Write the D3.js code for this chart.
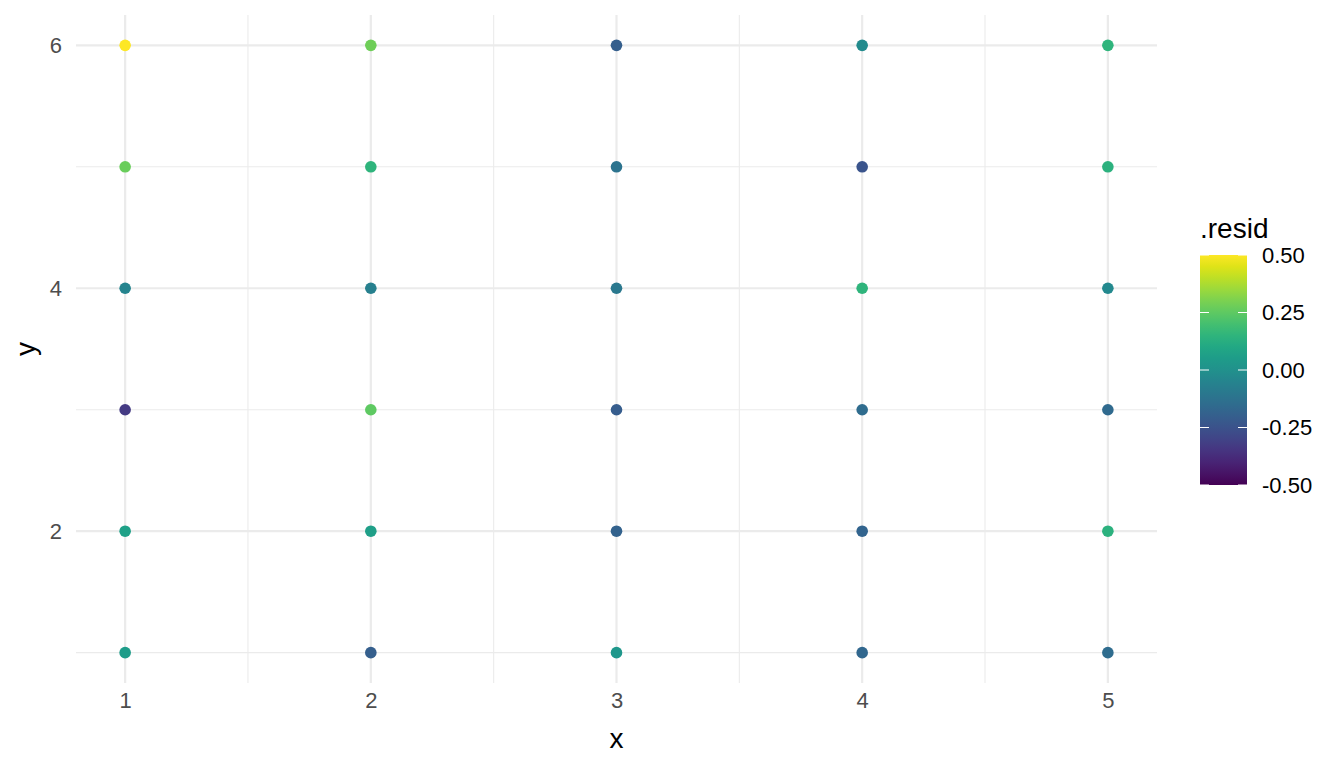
<!DOCTYPE html>
<html>
<head>
<meta charset="utf-8">
<script src="https://cdn.jsdelivr.net/npm/d3@7"></script>
<style>
  body { margin: 0; background: #fff; }
  text { font-family: "Liberation Sans", Arial, sans-serif; }
</style>
</head>
<body>
<svg width="1344" height="768"></svg>
<script>
// grid of points, residual per (x, y)
const xVals = [1, 2, 3, 4, 5];
const yVals = [1, 2, 3, 4, 5, 6];
// residuals, one row per x, ordered by y = 1..6
const resid = [
  [0.05, 0.07, -0.33, -0.05, 0.27, 0.50],
  [-0.20, 0.06, 0.25, -0.07, 0.15, 0.28],
  [0.03, -0.19, -0.21, -0.10, -0.12, -0.20],
  [-0.17, -0.18, -0.15, 0.15, -0.24, -0.02],
  [-0.15, 0.14, -0.16, -0.03, 0.14, 0.15]
];
const xTicks = [1, 2, 3, 4, 5];
const xMinor = [1.5, 2.5, 3.5, 4.5];
const yTicks = [2, 4, 6];
const yMinor = [1, 3, 5];
const legendTicks = [-0.5, -0.25, 0, 0.25, 0.5];

const points = [];
xVals.forEach((x, i) => yVals.forEach((y, j) => points.push({x: x, y: y, r: resid[i][j]})));

const svg = d3.select("svg");
const pLeft = 76, pRight = 1157, pTop = 15, pBottom = 683;

const x = d3.scaleLinear().domain([0.8, 5.2]).range([pLeft, pRight]);
const y = d3.scaleLinear().domain([0.75, 6.25]).range([pBottom, pTop]);
const color = d3.scaleSequential(d3.interpolateViridis).domain([-0.5, 0.5]);

const grid = svg.append("g");
grid.selectAll(".xminor").data(xMinor).enter().append("line")
  .attr("x1", d => x(d)).attr("x2", d => x(d)).attr("y1", pTop).attr("y2", pBottom)
  .attr("stroke", "#ebebeb").attr("stroke-width", 1.1);
grid.selectAll(".yminor").data(yMinor).enter().append("line")
  .attr("x1", pLeft).attr("x2", pRight).attr("y1", d => y(d)).attr("y2", d => y(d))
  .attr("stroke", "#ebebeb").attr("stroke-width", 1.1);
grid.selectAll(".xmajor").data(xTicks).enter().append("line")
  .attr("x1", d => x(d)).attr("x2", d => x(d)).attr("y1", pTop).attr("y2", pBottom)
  .attr("stroke", "#ebebeb").attr("stroke-width", 2.2);
grid.selectAll(".ymajor").data(yTicks).enter().append("line")
  .attr("x1", pLeft).attr("x2", pRight).attr("y1", d => y(d)).attr("y2", d => y(d))
  .attr("stroke", "#ebebeb").attr("stroke-width", 2.2);

// axes (no lines, just labels)
const xAxis = svg.append("g").attr("transform", `translate(0,${pBottom + 9})`)
  .call(d3.axisBottom(x).tickValues(xTicks).tickSize(0).tickPadding(0).tickFormat(d3.format("d")));
const yAxis = svg.append("g").attr("transform", `translate(62,0)`)
  .call(d3.axisLeft(y).tickValues(yTicks).tickSize(0).tickPadding(0).tickFormat(d3.format("d")));
[xAxis, yAxis].forEach(a => {
  a.select(".domain").remove();
  a.selectAll("text").attr("fill", "#4d4d4d").style("font-size", "22px")
    .style("font-family", "'Liberation Sans', Arial, sans-serif");
});

svg.append("text").attr("x", (pLeft + pRight) / 2).attr("y", 748)
  .attr("text-anchor", "middle").style("font-size", "28px").text("x");
svg.append("text").attr("transform", `translate(35,${(pTop + pBottom) / 2}) rotate(-90)`)
  .attr("text-anchor", "middle").style("font-size", "28px").text("y");

svg.append("g").selectAll("circle").data(points).enter().append("circle")
  .attr("cx", d => x(d.x)).attr("cy", d => y(d.y)).attr("r", 5.8)
  .attr("fill", d => color(d.r));

// colour bar legend
const lgX = 1200, lgW = 47, lgTop = 255, lgBot = 485;
const ly = d3.scaleLinear().domain([-0.5, 0.5]).range([lgBot, lgTop]);
const defs = svg.append("defs");
const grad = defs.append("linearGradient").attr("id", "vir")
  .attr("x1", 0).attr("y1", 1).attr("x2", 0).attr("y2", 0);
d3.range(0, 1.001, 0.05).forEach(t => {
  grad.append("stop").attr("offset", t).attr("stop-color", d3.interpolateViridis(t));
});
svg.append("rect").attr("x", lgX).attr("y", lgTop).attr("width", lgW).attr("height", lgBot - lgTop)
  .attr("fill", "url(#vir)");
const lg = svg.append("g");
lg.selectAll(".tl").data(legendTicks).enter().append("line")
  .attr("x1", lgX).attr("x2", lgX + 9).attr("y1", d => ly(d)).attr("y2", d => ly(d))
  .attr("stroke", "#fff").attr("stroke-width", 1);
lg.selectAll(".tr").data(legendTicks).enter().append("line")
  .attr("x1", lgX + lgW - 9).attr("x2", lgX + lgW).attr("y1", d => ly(d)).attr("y2", d => ly(d))
  .attr("stroke", "#fff").attr("stroke-width", 1);
lg.selectAll("text").data(legendTicks).enter().append("text")
  .attr("x", lgX + lgW + 15).attr("y", d => ly(d)).attr("dy", "0.36em")
  .style("font-size", "22px").text(d => d3.format(".2f")(d).replace("−", "-"));
svg.append("text").attr("x", lgX).attr("y", 238).style("font-size", "28px").text(".resid");
</script>
</body>
</html>
